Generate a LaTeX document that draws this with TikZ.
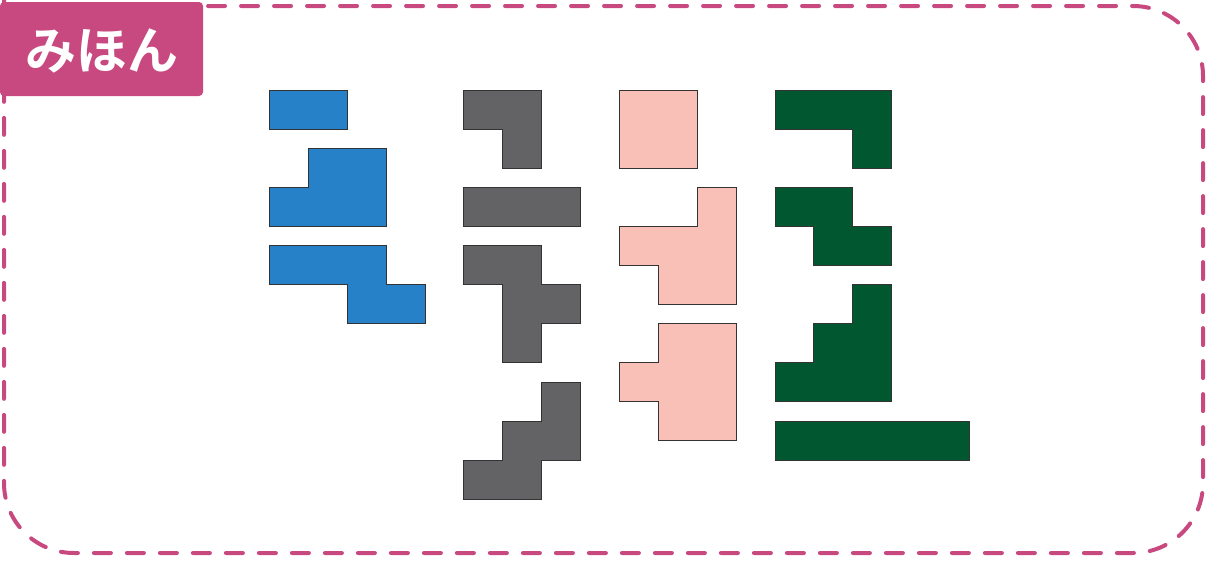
\documentclass[tikz,border=0pt]{standalone}
\usepackage{fontspec}
\newfontfamily\cjk{Noto Sans CJK JP Bold}
\definecolor{frame}{HTML}{C8497F}
\definecolor{pblue}{HTML}{2781C8}
\definecolor{pgrey}{HTML}{636264}
\definecolor{ppink}{HTML}{F9C0B8}
\definecolor{pgreen}{HTML}{005730}
\definecolor{edge}{HTML}{333333}
\tikzset{
  piece/.style={draw=edge, line width=0.9pt, line join=miter},
  border/.style={draw=frame, line width=4pt, line cap=round, dash pattern=on 17pt off 16pt, rounded corners=70pt},
  tag/.style={fill=frame, rounded corners=4pt},
}
\begin{document}
\begin{tikzpicture}[x=1pt,y=-1pt]
\useasboundingbox (0,0) rectangle (1210,560);
% dashed frame
\draw[border] (4,60) -- (4,6) -- (1203,6) -- (1203,553) -- (4,553) -- cycle;
% label
\fill[tag] (0,2) rectangle (203,96);
\node[text=white, font=\cjk\fontsize{51}{51}\selectfont, anchor=center] (label) at (102,51) {みほん};
% blue
\path[piece, fill=pblue] (269,90) -- (347,90) -- (347,129) -- (269,129) -- cycle;
\path[piece, fill=pblue] (308,148) -- (386,148) -- (386,226) -- (269,226) -- (269,187) -- (308,187) -- cycle;
\path[piece, fill=pblue] (269,245) -- (386,245) -- (386,284) -- (425,284) -- (425,323) -- (347,323) -- (347,284) -- (269,284) -- cycle;
% grey
\path[piece, fill=pgrey] (463,90) -- (541,90) -- (541,168) -- (502,168) -- (502,129) -- (463,129) -- cycle;
\path[piece, fill=pgrey] (463,187) -- (580,187) -- (580,226) -- (463,226) -- cycle;
\path[piece, fill=pgrey] (463,245) -- (541,245) -- (541,284) -- (580,284) -- (580,323) -- (541,323) -- (541,362) -- (502,362) -- (502,284) -- (463,284) -- cycle;
\path[piece, fill=pgrey] (541,382) -- (580,382) -- (580,460) -- (541,460) -- (541,499) -- (463,499) -- (463,460) -- (502,460) -- (502,421) -- (541,421) -- cycle;
% pink
\path[piece, fill=ppink] (619,90) -- (697,90) -- (697,168) -- (619,168) -- cycle;
\path[piece, fill=ppink] (697,187) -- (736,187) -- (736,304) -- (658,304) -- (658,265) -- (619,265) -- (619,226) -- (697,226) -- cycle;
\path[piece, fill=ppink] (658,323) -- (736,323) -- (736,440) -- (658,440) -- (658,401) -- (619,401) -- (619,362) -- (658,362) -- cycle;
% green
\path[piece, fill=pgreen] (775,90) -- (891,90) -- (891,168) -- (852,168) -- (852,129) -- (775,129) -- cycle;
\path[piece, fill=pgreen] (775,187) -- (852,187) -- (852,226) -- (891,226) -- (891,265) -- (813,265) -- (813,226) -- (775,226) -- cycle;
\path[piece, fill=pgreen] (852,284) -- (891,284) -- (891,401) -- (775,401) -- (775,362) -- (813,362) -- (813,323) -- (852,323) -- cycle;
\path[piece, fill=pgreen] (775,421) -- (969,421) -- (969,460) -- (775,460) -- cycle;
\end{tikzpicture}
\end{document}
